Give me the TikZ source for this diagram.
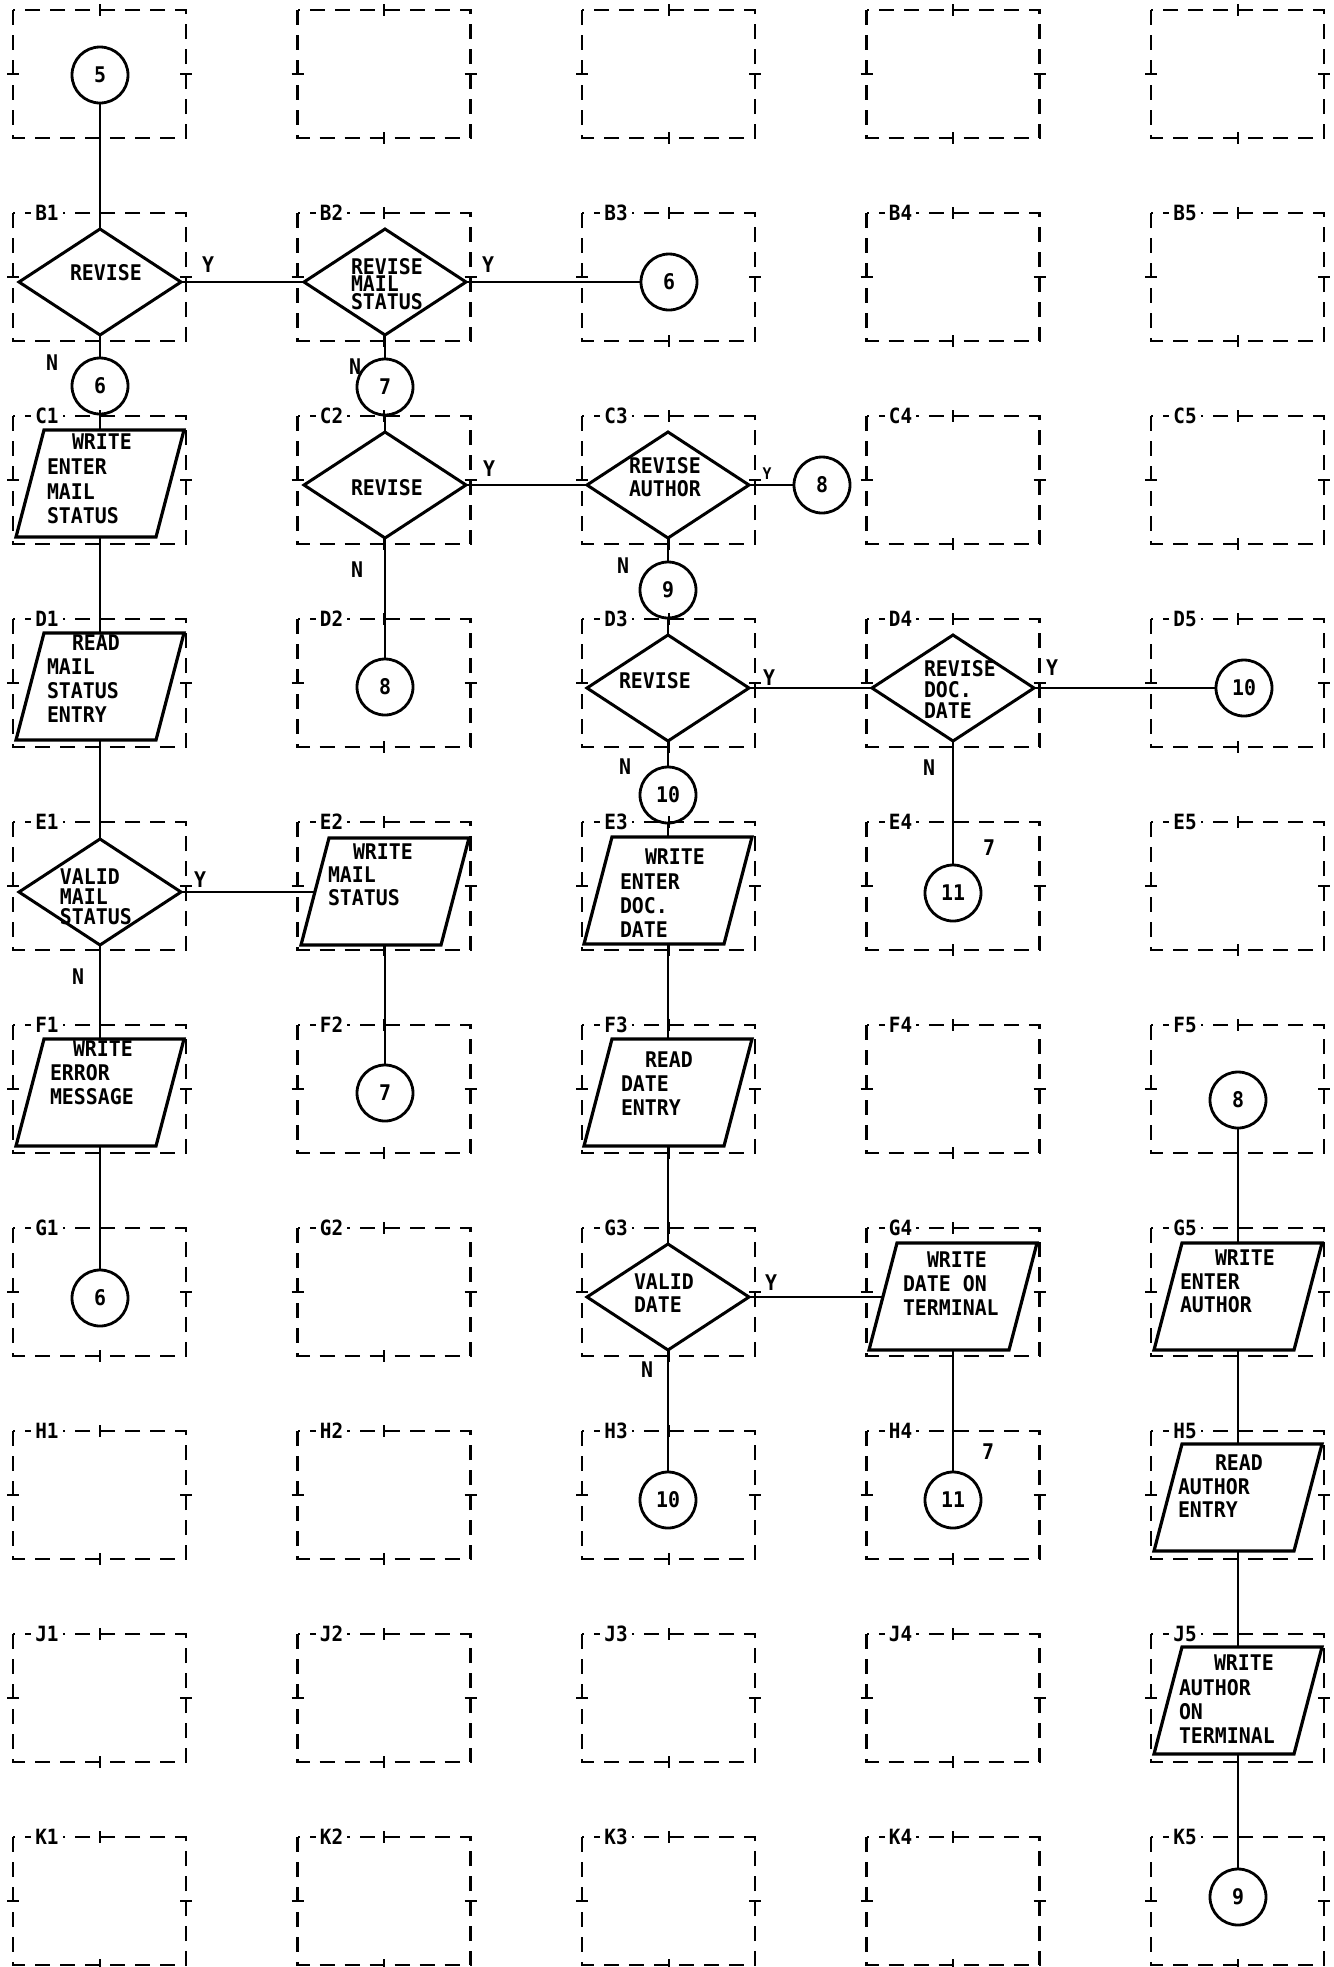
\documentclass[tikz,border=0pt]{standalone}
\usepackage{fontspec}
\newfontfamily\plotfont[FakeStretch=0.92]{DejaVu Sans Mono}
\usetikzlibrary{shapes.geometric,fit}
\newcommand\parabox[3]{%
  \coordinate (#1-bl) at (#2,{#3+107});
  \coordinate (#1-tr) at ({#2+168},#3);
  \node[fit=(#1-bl)(#1-tr), inner sep=0pt, outer sep=0pt] (#1) {};
  \draw[shp] ({#2+28},#3) -- ({#2+168},#3) -- ({#2+140},{#3+107}) -- (#2,{#3+107}) -- cycle;
  \coordinate (#1-w) at ({#2+14},{#3+53.5});
}
\begin{document}
\lineskiplimit=-100pt
\lineskip=0pt
\begin{tikzpicture}[x=0.5pt,y=-0.5pt,
  grid/.style={line width=1.1pt, dash pattern=on 7.5pt off 5pt},
  tick/.style={line width=1pt},
  glabel/.style={fill=white, inner xsep=2pt, inner ysep=0.5pt, font={\plotfont\bfseries\fontsize{10.5}{12}\selectfont}},
  conn/.style={line width=1.3pt},
  shp/.style={line width=1.6pt, line join=miter},
  dia/.style={shape=diamond, draw, line width=1.5pt, minimum width=81pt, minimum height=53pt, inner sep=0pt, outer sep=0pt},
  con/.style={shape=circle, draw, line width=1.4pt, minimum size=28pt, inner sep=0pt, outer sep=0pt, font={\plotfont\bfseries\fontsize{10.8}{12}\selectfont}},
  txt/.style={inner sep=0pt, outer sep=0pt, align=left, anchor=north west, font={\plotfont\bfseries\fontsize{10.8}{#1}\selectfont}},
  yn/.style={inner sep=0pt, font={\plotfont\bfseries\fontsize{10.8}{12}\selectfont}}
]
\fill[white] (0,0) rectangle (1334,1967);
\useasboundingbox (0,0) rectangle (1334,1967);

% grid of dashed boxes
\foreach \k/\r in {0/A,1/B,2/C,3/D,4/E,5/F,6/G,7/H,8/J,9/K} {
  \foreach \c in {1,...,5} {
    \pgfmathsetmacro\bxl{13+284.5*(\c-1)}
    \pgfmathsetmacro\byt{10+203*\k}
    \pgfmathsetmacro\bxr{\bxl+173}
    \pgfmathsetmacro\byb{\byt+128}
    \pgfmathsetmacro\bxm{\bxl+86.5}
    \pgfmathsetmacro\bym{\byt+64}
    \draw[grid] (\bxl,\byt) rectangle (\bxr,\byb);
    \draw[tick] (\bxm,{\byt-6}) -- (\bxm,{\byt+6});
    \draw[tick] (\bxm,{\byb-6}) -- (\bxm,{\byb+6});
    \draw[tick] ({\bxl-6},\bym) -- ({\bxl+6},\bym);
    \draw[tick] ({\bxr-6},\bym) -- ({\bxr+6},\bym);
    \ifnum\k>0 \node[glabel] (lab\r\c) at ({\bxl+34},\byt) {\r\c}; \fi
  }
}

% diamonds
\node[dia] (dB1) at (100,282) {};
\node[dia] (dB2) at (385,282) {};
\node[dia] (dC2) at (385,485) {};
\node[dia] (dC3) at (668,485) {};
\node[dia] (dD3) at (668,688) {};
\node[dia] (dD4) at (953,688) {};
\node[dia] (dE1) at (100,892) {};
\node[dia] (dG3) at (668,1297) {};

% connector circles
\node[con] (c5)   at (100,75)   {5};
\node[con] (cB1n) at (100,386)  {6};
\node[con] (cB3)  at (669,282)  {6};
\node[con] (cB2n) at (385,387)  {7};
\node[con] (cC3e) at (822,485)  {8};
\node[con] (cD2)  at (385,687)  {8};
\node[con] (cC3s) at (668,590)  {9};
\node[con] (cD5)  at (1244,688) {10};
\node[con] (cD3s) at (668,795)  {10};
\node[con] (cE4)  at (953,893)  {11};
\node[con] (cF2)  at (385,1093) {7};
\node[con] (cG1)  at (100,1298) {6};
\node[con] (cF5)  at (1238,1100) {8};
\node[con] (cH3)  at (668,1500) {10};
\node[con] (cH4)  at (953,1500) {11};
\node[con] (cK5)  at (1238,1897) {9};

% parallelograms
\parabox{pC1}{16}{430}
\parabox{pD1}{16}{633}
\parabox{pE2}{301}{838}
\parabox{pF1}{16}{1039}
\parabox{pE3}{584}{837}
\parabox{pF3}{584}{1039}
\parabox{pG4}{869}{1243}
\parabox{pG5}{1154}{1243}
\parabox{pH5}{1154}{1444}
\parabox{pJ5}{1154}{1647}

% texts in diamonds
\node[txt=12pt] (tB1) at (70,264) {REVISE};
\node[txt=8.8pt] (tB2) at (351,258) {REVISE\\MAIL\\STATUS};
\node[txt=12pt] (tC2) at (351,479) {REVISE};
\node[txt=11.5pt] (tC3) at (629,457) {REVISE\\AUTHOR};
\node[txt=12pt] (tD3) at (619,672) {REVISE};
\node[txt=10.5pt] (tD4) at (924,660) {REVISE\\DOC.\\DATE};
\node[txt=10pt] (tE1) at (60,869) {VALID\\MAIL\\STATUS};
\node[txt=11.5pt] (tG3) at (634,1274) {VALID\\DATE};

% texts in parallelograms
\node[txt=12.35pt] (tC1) at (47,434) {\hspace*{12.5pt}WRITE\\ENTER\\MAIL\\STATUS};
\node[txt=12pt] (tD1) at (47,635) {\hspace*{12.5pt}READ\\MAIL\\STATUS\\ENTRY};
\node[txt=11.5pt] (tE2) at (328,844) {\hspace*{12.5pt}WRITE\\MAIL\\STATUS};
\node[txt=12pt] (tF1) at (50,1041) {\hspace*{11.5pt}WRITE\\ERROR\\MESSAGE};
\node[txt=12.15pt] (tE3) at (620,849) {\hspace*{12.5pt}WRITE\\ENTER\\DOC.\\DATE};
\node[txt=12pt] (tF3) at (621,1052) {\hspace*{12pt}READ\\DATE\\ENTRY};
\node[txt=12pt] (tG4) at (903,1252) {\hspace*{12pt}WRITE\\DATE ON\\TERMINAL};
\node[txt=11.75pt] (tG5) at (1180,1250) {\hspace*{17.5pt}WRITE\\ENTER\\AUTHOR};
\node[txt=11.75pt] (tH5) at (1178,1455) {\hspace*{18.5pt}READ\\AUTHOR\\ENTRY};
\node[txt=12.15pt] (tJ5) at (1179,1655) {\hspace*{17.5pt}WRITE\\AUTHOR\\ON\\TERMINAL};

% connectors
\draw[conn] (c5) -- (dB1.north);
\draw[conn] (dB1.east) -- (dB2.west);
\draw[conn] (dB1.south) -- (cB1n.north);
\draw[conn] (cB1n.south) -- (pC1.north);
\draw[conn] (pC1.south) -- (pD1.north);
\draw[conn] (pD1.south) -- (dE1.north);
\draw[conn] (dE1.south) -- (pF1.north);
\draw[conn] (pF1.south) -- (cG1.north);
\draw[conn] (dE1.east) -- (dE1.east -| pE2-w);
\draw[conn] (pE2.south) -- (cF2.north);
\draw[conn] (dB2.east) -- (cB3.west);
\draw[conn] (dB2.south) -- (cB2n.north);
\draw[conn] (cB2n.south) -- (dC2.north);
\draw[conn] (dC2.east) -- (dC3.west);
\draw[conn] (dC2.south) -- (cD2.north);
\draw[conn] (dC3.east) -- (cC3e.west);
\draw[conn] (dC3.south) -- (cC3s.north);
\draw[conn] (cC3s.south) -- (dD3.north);
\draw[conn] (dD3.east) -- (dD4.west);
\draw[conn] (dD3.south) -- (cD3s.north);
\draw[conn] (cD3s.south) -- (pE3.north);
\draw[conn] (pE3.south) -- (pF3.north);
\draw[conn] (pF3.south) -- (dG3.north);
\draw[conn] (dG3.east) -- (dG3.east -| pG4-w);
\draw[conn] (dG3.south) -- (cH3.north);
\draw[conn] (pG4.south) -- (cH4.north);
\draw[conn] (dD4.east) -- (cD5.west);
\draw[conn] (dD4.south) -- (cE4.north);
\draw[conn] (cF5.south) -- (pG5.north);
\draw[conn] (pG5.south) -- (pH5.north);
\draw[conn] (pH5.south) -- (pJ5.north);
\draw[conn] (pJ5.south) -- (cK5.north);

% Y / N labels
\node[yn] (y1) at (208,265) {Y};
\node[yn] (n1) at (52,363) {N};
\node[yn] (y2) at (488,265) {Y};
\node[yn] (n2) at (355,367) {N};
\node[yn] (y3) at (489,469) {Y};
\node[yn] (n3) at (357,570) {N};
\node[yn, font={\plotfont\bfseries\fontsize{8}{10}\selectfont}] (y4) at (767,474) {Y};
\node[yn] (n4) at (623,566) {N};
\node[yn] (y5) at (769,678) {Y};
\node[yn] (y6) at (1052,668) {Y};
\node[yn] (n5) at (625,767) {N};
\node[yn] (n6) at (929,768) {N};
\node[yn] (s1) at (989,848) {7};
\node[yn] (y7) at (200,880) {Y};
\node[yn] (n7) at (78,977) {N};
\node[yn] (y8) at (771,1283) {Y};
\node[yn] (n8) at (647,1370) {N};
\node[yn] (s2) at (988,1452) {7};
\end{tikzpicture}
\end{document}
